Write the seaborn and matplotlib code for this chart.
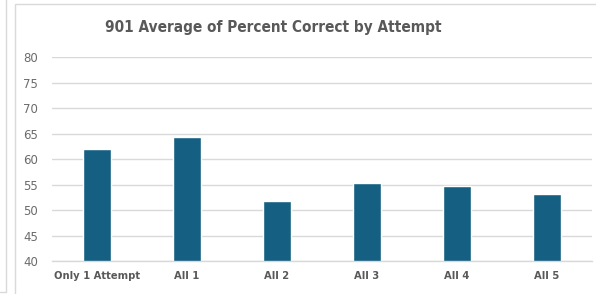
"""
Bar chart: 901 average of percent correct by attempt.
"""

import matplotlib
matplotlib.use("Agg")
import matplotlib.pyplot as plt
import seaborn as sns
import pandas as pd
from matplotlib.patches import Rectangle
from matplotlib.lines import Line2D

# Data
attempts = ["Only 1 Attempt", "All 1", "All 2", "All 3", "All 4", "All 5"]
avg_percent = [62.0, 64.3, 51.8, 55.4, 54.8, 53.1]
y_ticks = [40, 45, 50, 55, 60, 65, 70, 75, 80]

sns.set_style("white")
plt.rcParams['font.family'] = ['DejaVu Sans']

df = pd.DataFrame({"attempt": attempts, "value": avg_percent})

fig = plt.figure(figsize=(5.96, 2.94), dpi=100)

# Excel chart-area border and neighbouring sheet edge
fig.patches.append(Rectangle((14.5 / 596, -0.01), 0.99, 1.0 - 1.5 / 294,
                             transform=fig.transFigure, fill=False,
                             edgecolor="#D9D9D9", linewidth=1))
fig.lines.append(Line2D([5.5 / 596, 5.5 / 596, 0], [1, 2.5 / 294, 2.5 / 294],
                        transform=fig.transFigure, color="#D9D9D9",
                        linewidth=1))

ax = fig.add_axes([0.0872, 0.112, 0.906, 0.694])

sns.barplot(data=df, x="attempt", y="value", color="#156082",
            width=0.31, saturation=1, ax=ax)

ax.set_ylim(40, 80)
ax.set_yticks(y_ticks)
ax.set_xlim(-0.5, len(attempts) - 0.5)
ax.yaxis.grid(True, color="#D9D9D9", linewidth=1)
ax.set_axisbelow(True)

for side in ["top", "right", "left"]:
    ax.spines[side].set_visible(False)
ax.spines["bottom"].set_color("#D9D9D9")
ax.spines["bottom"].set_linewidth(1)

ax.tick_params(axis="both", length=0, colors="#595959")
ax.tick_params(axis="x", pad=7)
ax.tick_params(axis="y", pad=10)
for lbl in ax.get_yticklabels():
    lbl.set_fontsize(8.5)
    lbl.set_color("#6b6b6b")
for lbl in ax.get_xticklabels():
    lbl.set_fontsize(8)
    lbl.set_fontweight("bold")
    lbl.set_fontstretch("condensed")

ax.set_xlabel("")
ax.set_ylabel("")

fig.text(0.459, 0.905, "901 Average of Percent Correct by Attempt",
         ha="center", va="center", fontsize=11, fontweight="bold",
         fontstretch="condensed", color="#595959")

plt.savefig("out.png", dpi=100)
plt.close()
